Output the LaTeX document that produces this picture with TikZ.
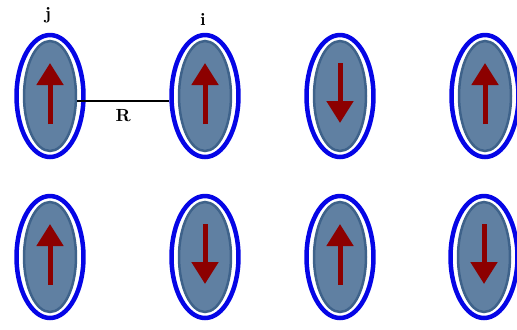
\documentclass[tikz,border=0pt]{standalone}
\usepackage{xcolor}
\usepackage{tikz}
\usetikzlibrary{shapes.geometric,arrows.meta,positioning,calc}

\definecolor{ringblue}{RGB}{5,5,230}
\definecolor{corefill}{RGB}{96,128,162}
\definecolor{coreedge}{RGB}{62,98,138}
\definecolor{spinred}{RGB}{140,0,0}

\begin{document}
\begin{tikzpicture}[x=0.02cm, y=-0.02cm,
    ring/.style={draw=ringblue, line width=0.09cm, ellipse, inner sep=0pt, minimum width=1.34cm, minimum height=2.44cm},
    core/.style={draw=coreedge, line width=0.05cm, fill=corefill, ellipse, inner sep=0pt, minimum width=1.04cm, minimum height=2.2cm},
    spin/.style={draw=spinred, line width=0.1cm, -{Triangle[width=0.52cm, length=0.44cm]}},
    lbl/.style={font=\normalsize\bfseries}]
    \useasboundingbox (0,0) rectangle (517,329);

    % Sites, first row
    \node[ring] (j) at (50,96) {};   \node[core] (jc) at (j) {};
    \node[ring] (i) at (205,96) {};  \node[core] (ic) at (i) {};
    \node[ring] (a3) at (340,96) {}; \node[core] (a3c) at (a3) {};
    \node[ring] (a4) at (485,96) {}; \node[core] (a4c) at (a4) {};

    % Sites, second row
    \node[ring] (b1) at (50,257) {};  \node[core] (b1c) at (b1) {};
    \node[ring] (b2) at (205,257) {}; \node[core] (b2c) at (b2) {};
    \node[ring] (b3) at (340,257) {}; \node[core] (b3c) at (b3) {};
    \node[ring] (b4) at (484,257) {}; \node[core] (b4c) at (b4) {};

    % Spins
    \draw[spin] ($(j)+(0,28)$) -- ($(j)+(0,-33)$);
    \draw[spin] ($(i)+(0,28)$) -- ($(i)+(0,-33)$);
    \draw[spin] ($(a3)+(0,-33)$) -- ($(a3)+(0,27)$);
    \draw[spin] ($(a4)+(0,28)$) -- ($(a4)+(0,-33)$);
    \draw[spin] ($(b1)+(0,28)$) -- ($(b1)+(0,-33)$);
    \draw[spin] ($(b2)+(0,-33)$) -- ($(b2)+(0,27)$);
    \draw[spin] ($(b3)+(0,28)$) -- ($(b3)+(0,-33)$);
    \draw[spin] ($(b4)+(0,-33)$) -- ($(b4)+(0,27)$);

    % Labels and distance
    \node[lbl] (lj) at (48,15) {j};
    \node[lbl] (li) at (203,19) {i};
    \draw[thick] ([yshift=-0.1cm]jc.east) -- node[below=1pt, lbl] (dist) {R} ([yshift=-0.1cm]i.west);
\end{tikzpicture}
\end{document}
